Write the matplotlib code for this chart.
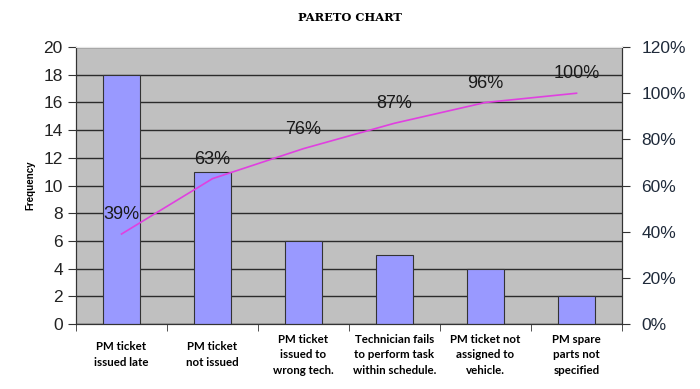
import numpy as np
import matplotlib
matplotlib.use("Agg")
import matplotlib.pyplot as plt
from matplotlib.ticker import FuncFormatter

categories = [
    "PM ticket\nissued late",
    "PM ticket\nnot issued",
    "PM ticket\nissued to\nwrong tech.",
    "Technician fails\nto perform task\nwithin schedule.",
    "PM ticket not\nassigned to\nvehicle.",
    "PM spare\nparts not\nspecified",
]
frequency = [18, 11, 6, 5, 4, 2]
cumulative_pct = [39, 63, 76, 87, 96, 100]


def main():
    fig = plt.figure(figsize=(7, 3.89), dpi=100)
    ax = fig.add_axes([0.1086, 0.167, 0.78, 0.712])
    ax.set_facecolor("#c0c0c0")

    x = np.arange(len(categories))
    ax.bar(x, frequency, width=0.4, color="#9999ff", edgecolor="#333333",
           linewidth=0.8, zorder=3)

    ax.set_xlim(-0.5, len(categories) - 0.5)
    ax.set_ylim(0, 20)
    ax.set_yticks(np.arange(0, 21, 2))
    ax.yaxis.grid(True, color="#2b2b2b", lw=1.0, zorder=1)
    ax.set_axisbelow(True)

    # category labels at centres, tick marks on boundaries
    ax.set_xticks(x)
    ax.set_xticklabels(categories, fontsize=8.3, fontfamily="Lato",
                       fontweight="bold", linespacing=1.5)
    ax.tick_params(axis="x", which="major", length=0, pad=22)
    for lab in ax.get_xticklabels():
        lab.set_verticalalignment("center")
    ax.set_xticks(np.arange(-0.5, len(categories)), minor=True)
    ax.tick_params(axis="x", which="minor", length=5, color="#333333")

    ax.tick_params(axis="y", labelsize=12.5, length=6, color="#333333",
                   labelcolor="#222222")
    for lab in ax.get_yticklabels():
        lab.set_fontfamily("Liberation Sans")
    ax.set_ylabel("Frequency", fontsize=7, fontfamily="Liberation Sans",
                  fontweight="bold", labelpad=6)

    for s in ["left", "bottom", "right"]:
        ax.spines[s].set_color("#333333")
    ax.spines["top"].set_color("#e6e6e6")

    ax2 = ax.twinx()
    cum = np.array(cumulative_pct) / 100
    ax2.plot(x, cum, color="#e040e0", lw=1.2, zorder=4)
    for xi, ci, p in zip(x, cum, cumulative_pct):
        ax2.annotate(f"{p}%", (xi, ci), xytext=(0, 14),
                     textcoords="offset points", ha="center", va="center",
                     fontsize=13, fontfamily="Liberation Sans",
                     color="#1a1a1a")
    ax2.set_ylim(0, 1.2)
    ax2.set_yticks(np.arange(0, 1.21, 0.2))
    ax2.yaxis.set_major_formatter(FuncFormatter(lambda v, _: f"{v * 100:.0f}%"))
    ax2.tick_params(axis="y", labelsize=12.5, length=6, color="#333333",
                    labelcolor="#1f2a3a", pad=8)
    for lab in ax2.get_yticklabels():
        lab.set_fontfamily("Liberation Sans")
    for s in ["left", "bottom", "right"]:
        ax2.spines[s].set_color("#333333")
    ax2.spines["top"].set_color("#e6e6e6")

    fig.text(0.5, 0.955, "PARETO CHART", ha="center", va="center",
             fontsize=8.2, fontweight="bold", fontfamily="DejaVu Serif")

    fig.savefig("out.png", dpi=100)


if __name__ == "__main__":
    main()
